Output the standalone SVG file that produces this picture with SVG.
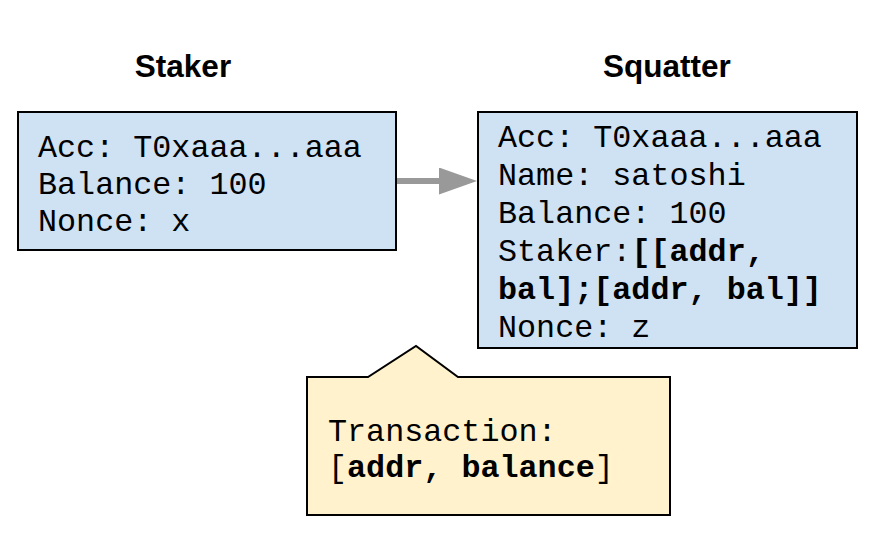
<svg xmlns="http://www.w3.org/2000/svg" width="888" height="538" viewBox="0 0 888 538">
  <style>
    .box { fill: #cfe2f3; stroke: #000000; stroke-width: 2; }
    .note { fill: #fff2cc; stroke: #000000; stroke-width: 2; }
    .mono { font-family: "Liberation Mono", "Courier New", monospace; font-size: 31.75px; fill: #000000; }
    .b { font-weight: bold; }
    .title { font-family: "Liberation Sans", Arial, sans-serif; font-size: 31.5px; font-weight: bold; fill: #000000; text-anchor: middle; }
  </style>
  <defs>
    <marker id="arrowhead" viewBox="0 0 38 27" refX="0" refY="13.5" markerWidth="38" markerHeight="27" markerUnits="userSpaceOnUse" orient="auto">
      <path d="M0,0 L38,13.5 L0,27 z" fill="#999999"/>
    </marker>
  </defs>
  <rect width="888" height="538" fill="#ffffff"/>
  <g id="title-staker"><text class="title" x="183" y="77">Staker</text></g>
  <g id="title-squatter"><text class="title" x="667" y="77">Squatter</text></g>
  <g id="staker">
    <rect class="box" x="18" y="112" width="378" height="138"/>
    <text class="mono" x="38" y="157">Acc: T0xaaa...aaa</text>
    <text class="mono" x="38" y="194">Balance: 100</text>
    <text class="mono" x="38" y="231">Nonce: x</text>
  </g>
  <g id="squatter">
    <rect class="box" x="478" y="112" width="379" height="236"/>
    <text class="mono" x="498" y="147">Acc: T0xaaa...aaa</text>
    <text class="mono" x="498" y="185">Name: satoshi</text>
    <text class="mono" x="498" y="223">Balance: 100</text>
    <text class="mono" x="498" y="261">Staker:<tspan class="b">[[addr,</tspan></text>
    <text class="mono b" x="498" y="299">bal];[addr, bal]]</text>
    <text class="mono" x="498" y="337">Nonce: z</text>
  </g>
  <g id="transaction">
    <path class="note" d="M307,377 L368,377 L416,346 L458,377 L670,377 L670,515 L307,515 Z"/>
    <text class="mono" x="328" y="441">Transaction:</text>
    <text class="mono" x="328" y="477">[<tspan class="b">addr, balance</tspan>]</text>
  </g>
  <g id="connectors">
    <line x1="397" y1="181" x2="439" y2="181" stroke="#999999" stroke-width="6" marker-end="url(#arrowhead)"/>
  </g>
</svg>
